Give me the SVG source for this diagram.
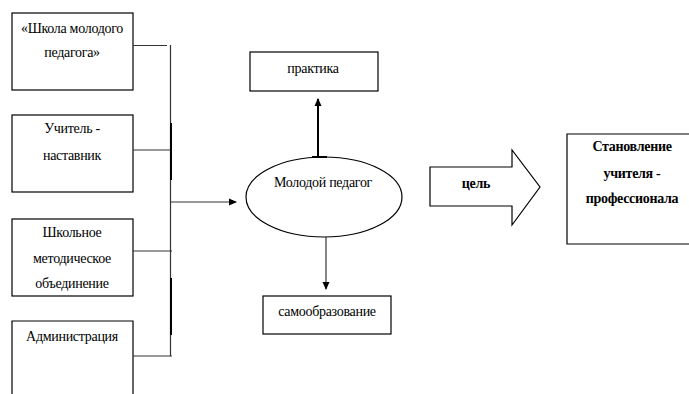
<svg xmlns="http://www.w3.org/2000/svg" width="689" height="394" viewBox="0 0 689 394">
<style>
.box{fill:#fff;stroke:#000;stroke-width:1.2}
text{font-family:'Liberation Serif','DejaVu Serif',serif;font-size:14px;fill:#000;text-anchor:middle;letter-spacing:-0.3px}
.b{font-weight:bold}
.ln{stroke:#333;stroke-width:1.2;fill:none}
.thick{stroke:#000;stroke-width:2;fill:none}
</style>
<defs>
<marker id="ah" markerWidth="8" markerHeight="8" refX="7" refY="4" orient="auto" markerUnits="userSpaceOnUse">
<path d="M0,0.5 L8,4 L0,7.5 Z" fill="#000"/>
</marker>
</defs>
<rect width="689" height="394" fill="#fff"/>
<g id="school">
<rect class="box" x="12" y="13" width="121" height="77"/>
<text x="72" y="33">«Школа молодого</text>
<text x="72" y="57">педагога»</text>
</g>
<g id="mentor">
<rect class="box" x="12" y="115" width="121" height="77"/>
<text x="72" y="133">Учитель -</text>
<text x="72" y="160">наставник</text>
</g>
<g id="method">
<rect class="box" x="12" y="219" width="121" height="77"/>
<text x="72" y="237">Школьное</text>
<text x="72" y="263">методическое</text>
<text x="72" y="288">объединение</text>
</g>
<g id="admin">
<path class="box" d="M12,394 V321 H133 V394"/>
<text x="72" y="341">Администрация</text>
</g>
<g id="young">
<ellipse class="box" cx="324" cy="197" rx="78" ry="40"/>
<text x="323" y="187">Молодой педагог</text>
</g>
<g id="practice">
<rect class="box" x="250" y="52" width="128" height="39"/>
<text x="313" y="73">практика</text>
</g>
<g id="selfedu">
<rect class="box" x="263" y="296" width="128" height="38"/>
<text x="327" y="316">самообразование</text>
</g>
<g id="goal">
<path class="box" d="M430,167 H512 V150 L540,187 L512,225 V206 H430 Z"/>
<text class="b" x="476" y="188">цель</text>
</g>
<g id="result">
<path class="box" d="M689,134 H567 V244 H689"/>
<text class="b" x="632" y="151">Становление</text>
<text class="b" x="632" y="178">учителя -</text>
<text class="b" x="632" y="203">профессионала</text>
</g>
<g id="connectors">
<path class="ln" d="M133,45.5 H167"/>
<path class="ln" d="M170.5,45 V356"/>
<path class="ln" d="M133,150 H171"/>
<path class="ln" d="M133,251 H172"/>
<path class="ln" d="M133,356 H172"/>
<path class="thick" d="M171,123 V180"/>
<path class="thick" d="M171,278 V335"/>
<path class="ln" d="M171,202 H236" marker-end="url(#ah)"/>
<path class="thick" d="M318,156 V99" marker-end="url(#ah)"/>
<path class="thick" d="M312,157 H327"/>
<path class="ln" d="M326,237 V289" marker-end="url(#ah)"/>
</g>
</svg>
